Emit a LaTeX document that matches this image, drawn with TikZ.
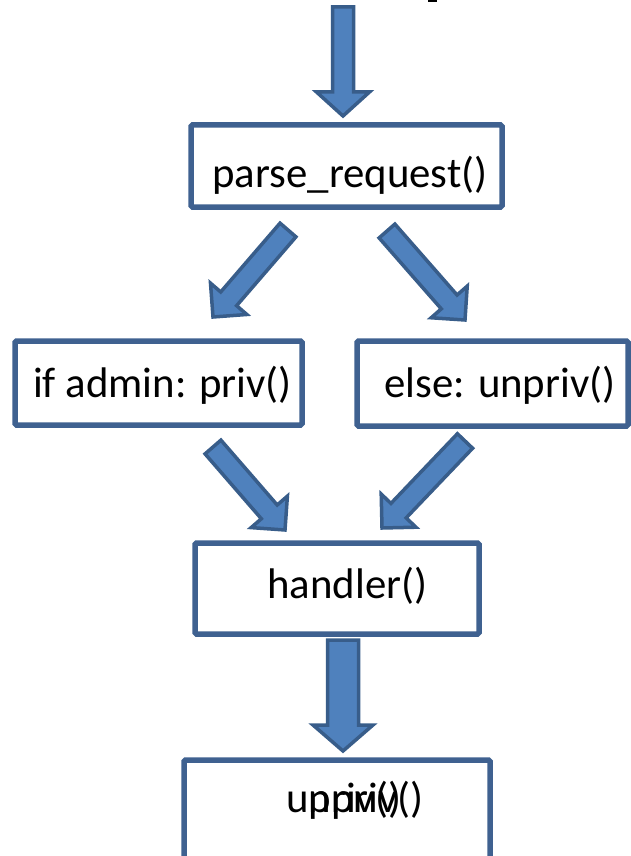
\documentclass[tikz,border=0pt]{standalone}
\usepackage{fontspec}
\setmainfont{Carlito}
\usetikzlibrary{calc}
\definecolor{arrowfill}{HTML}{4F81BD}
\definecolor{arrowline}{HTML}{385D8A}
\definecolor{boxline}{HTML}{3F6190}

\tikzset{
  blockarrow/.style={fill=arrowfill, draw=arrowline, line width=3.5pt, line join=miter},
  box/.style={draw=boxline, line width=5.5pt, fill=white, rounded corners=1.5pt,
              inner sep=0pt, outer sep=0pt},
  label/.style={font=\fontsize{42.8}{50}\selectfont, anchor=base, inner sep=0pt, text=black},
}

% block arrow: #1 tail, #2 tip, #3 half shaft width, #4 half head width, #5 head length
\newcommand\blockarrow[5]{%
  \coordinate (ba-h) at ($(#2)!#5!(#1)$);
  \draw[blockarrow]
    ($(#1)!#3!90:(#2)$) -- ($(ba-h)!#3!90:(#2)$) -- ($(ba-h)!#4!90:(#2)$) --
    (#2) --
    ($(ba-h)!#4!-90:(#2)$) -- ($(ba-h)!#3!-90:(#2)$) -- ($(#1)!#3!-90:(#2)$) -- cycle;
}

\begin{document}
\begin{tikzpicture}[x=1pt, y=-1pt]
\useasboundingbox (0,0) rectangle (631,856);
\clip (0,0) rectangle (631,856);

% arrow end points
\coordinate (in-tail) at (343,7);
\coordinate (in-tip) at (343,116);
\coordinate (pl-tail) at (288,230);
\coordinate (pl-tip) at (213,317);
\coordinate (pr-tail) at (387,231);
\coordinate (pr-tip) at (465,320);
\coordinate (al-tail) at (213,447);
\coordinate (al-tip) at (285,530);
\coordinate (ar-tail) at (465,441);
\coordinate (ar-tip) at (382,528);
\coordinate (hd-tail) at (343,640);
\coordinate (hd-tip) at (343,751);

% small mark at the top edge
\fill[black] (428,0) rectangle (437,2.5);

% flow arrows
\blockarrow{in-tail}{in-tip}{10.5pt}{26.5pt}{24pt}
\blockarrow{pl-tail}{pl-tip}{10.5pt}{24pt}{24pt}
\blockarrow{pr-tail}{pr-tip}{10.5pt}{24pt}{24pt}
\blockarrow{al-tail}{al-tip}{10.5pt}{24pt}{24pt}
\blockarrow{ar-tail}{ar-tip}{10.5pt}{24pt}{24pt}
\blockarrow{hd-tail}{hd-tip}{15.5pt}{30pt}{26pt}

% boxes
\node[box, minimum width=311pt, minimum height=82pt] (parse) at (346.5,166) {};
\node[box, minimum width=287pt, minimum height=84pt] (admin) at (158.5,383) {};
\node[box, minimum width=271pt, minimum height=85pt] (else) at (492.5,383.5) {};
\node[box, minimum width=284pt, minimum height=91pt] (handler) at (337,588.5) {};
\node[box, minimum width=306pt, minimum height=120pt] (call) at (337,820) {};

% labels
\node[label] (parse-t) at (350,187) {parse\_request()};
\node[label] (admin-t) at (162.5,397) {if admin: priv()};
\node[label] (else-t) at (500,397) {else: unpriv()};
\node[label] (handler-t) at (347.5,598) {handler()};
\node[label] (call-a) at (355,812) {unpriv()};
\node[label] (call-b) at (355,812) {priv()};
\end{tikzpicture}
\end{document}
